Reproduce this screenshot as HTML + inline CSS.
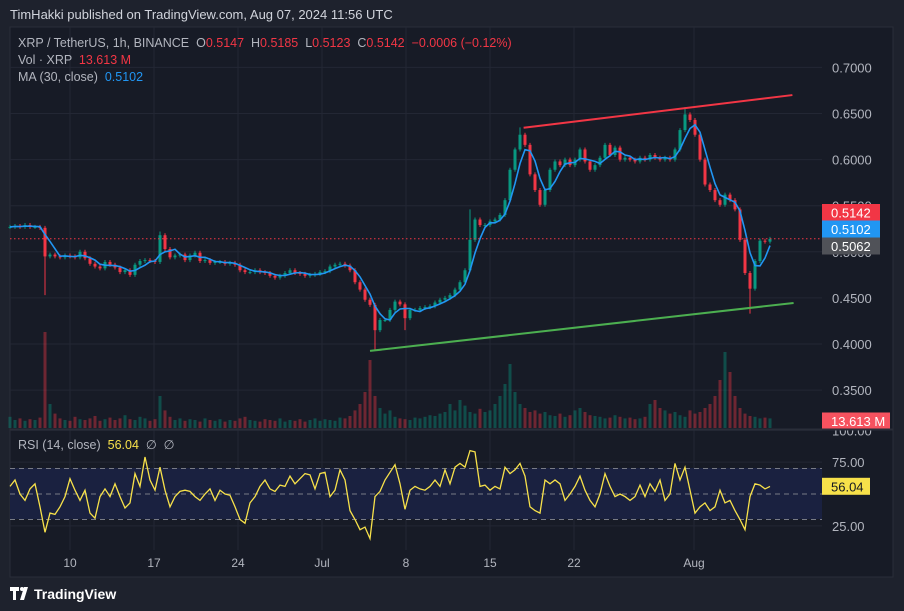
<!DOCTYPE html>
<html><head><meta charset="utf-8"><style>
html,body{margin:0;padding:0;background:#1e222d;}
svg{display:block;font-family:"Liberation Sans",sans-serif;}
</style></head><body>
<svg id="chart" width="904" height="611" viewBox="0 0 904 611" xmlns="http://www.w3.org/2000/svg">
<rect x="0" y="0" width="904" height="611" fill="#1e222d"/>
<text x="10" y="19" fill="#d1d4dc" font-size="13">TimHakki published on TradingView.com, Aug 07, 2024 11:56 UTC</text>
<rect x="10" y="27" width="883" height="550" fill="#171b26" stroke="#2a2e39"/>
<g id="grid"></g>
<rect x="10" y="468" width="812" height="51" fill="#1a2140"/>
<g id="rsilines"></g>
<g id="vol"></g>
<g id="candles"></g>
<g id="ma"></g>
<g id="lines"></g>
<g id="rsi"></g>
<g id="axis"></g>
<line x1="10" y1="429.5" x2="893" y2="429.5" stroke="#2a2e39" stroke-width="2"/>
<g font-size="12.5">
<text x="18" y="47" fill="#b2b5be" xml:space="preserve">XRP / TetherUS, 1h, BINANCE  O<tspan fill="#f23645">0.5147</tspan>  H<tspan fill="#f23645">0.5185</tspan>  L<tspan fill="#f23645">0.5123</tspan>  C<tspan fill="#f23645">0.5142</tspan>  <tspan fill="#f23645">−0.0006 (−0.12%)</tspan></text>
<text x="18" y="64" fill="#b2b5be" xml:space="preserve">Vol · XRP  <tspan fill="#f23645">13.613 M</tspan></text>
<text x="18" y="81" fill="#b2b5be" xml:space="preserve">MA (30, close)  <tspan fill="#2196f3">0.5102</tspan></text>
<text x="18" y="449" fill="#b2b5be" xml:space="preserve">RSI (14, close)  <tspan fill="#f7e14a">56.04</tspan>  ∅  ∅</text>
</g>
<g>
<path d="M10 587h9v4h-3v9h-3v-9h-3z M20 600l4-13h4l-4 13z" fill="#ffffff"/>
<circle cx="22" cy="589" r="2" fill="#ffffff"/>
<text x="34" y="599" fill="#ffffff" font-size="14" font-weight="bold">TradingView</text>
</g>
</svg>
<script>
const closes=[.527,.528,.527,.529,.527,.527,.526,.495,.497,.495,
.494,.496,.495,.494,.500,.493,.487,.484,.482,.489,
.486,.483,.478,.480,.475,.486,.490,.491,.490,.489,
.518,.503,.494,.496,.497,.491,.496,.499,.490,.491,
.488,.489,.489,.487,.488,.486,.480,.478,.478,.480,
.478,.477,.474,.472,.474,.477,.480,.477,.476,.474,
.475,.476,.478,.479,.484,.486,.487,.485,.480,.467,
.459,.448,.4425,.415,.426,.426,.437,.446,.443,.428,
.437,.437,.439,.440,.441,.445,.448,.450,.453,.459,
.467,.480,.513,.535,.529,.529,.533,.535,.540,.556,
.589,.611,.627,.616,.584,.567,.551,.567,.589,.598,
.594,.600,.594,.600,.611,.598,.589,.594,.602,.616,
.605,.613,.600,.602,.600,.598,.602,.600,.605,.602,
.600,.602,.600,.611,.632,.649,.643,.627,.600,.573,
.567,.556,.551,.562,.556,.546,.513,.477,.460,.490,
.512,.511,.514];
const extremes=[[7,0.453],[73,0.393],[148,0.433],[102,0.635],[135,0.657],[79,0.415],[30,0.522],[92,0.546]];
const volumes=[14,10,12,9,11,10,13,120,30,18,12,10,9,14,11,10,12,15,9,11,13,10,12,16,11,10,14,12,9,11,40,22,14,10,12,9,11,10,8,12,10,9,11,8,10,9,12,14,10,9,8,11,10,9,12,8,10,9,11,8,10,12,9,11,10,9,13,12,15,22,30,45,85,40,25,18,22,14,12,11,10,13,12,14,16,15,18,20,30,22,35,28,20,18,24,20,22,30,40,55,80,45,30,25,20,22,18,20,16,15,18,14,16,22,25,20,16,15,14,12,13,16,14,12,13,11,12,14,30,35,25,22,18,20,16,14,22,18,20,25,30,40,60,95,70,40,25,18,15,14,12,13,12];
const rsiValues=[56,61,50,45,54,58,40,20,35,34,
40,48,62,53,45,53,35,31,48,54,
48,58,48,39,43,66,56,79,61,53,
71,53,40,48,52,53,52,48,45,50,
54,45,53,50,49,40,30,27,43,48,
56,61,54,52,57,56,64,58,62,66,
65,54,66,67,48,53,69,61,37,30,
22,24,15,48,52,61,67,73,58,38,
53,56,54,53,56,61,56,69,58,71,
74,71,84,83,56,57,53,56,54,71,
66,69,74,64,40,37,35,61,58,61,
58,45,50,56,64,53,45,40,50,66,
56,48,50,48,45,48,57,48,58,52,
61,45,50,74,61,71,53,35,40,43,
37,40,53,43,45,37,30,22,48,58,
57,54,56];
const priceTicks=[0.70,0.65,0.60,0.55,0.50,0.45,0.40,0.35];
const priceTickLabels=["0.7000","0.6500","0.6000","0.5500","0.5000","0.4500","0.4000","0.3500"];
const rsiTicks=[100,75,25];
const rsiTickLabels=["100.00","75.00","25.00"];
const timeTickDays=[5,12,19,26,33,40,47,57];
const timeTickLabels=["10","17","24","Jul","8","15","22","Aug"];
const redTrend=[[42.8,0.6345],[65.2,0.670]];
const greenTrend=[[30,0.3925],[65.3,0.4445]];
const lastPrice=0.5142, maValue=0.5102, prevValue=0.5062, lastRsi=56.04;

const NS="http://www.w3.org/2000/svg";
function yP(p){return 251.8-(p-0.5)*922;}
function xI(i){return 10+5*i;}
function xD(d){return 10+12*d;}
function yR(r){return 494-(r-50)*1.275;}
function yV(v){return 428-v*0.8;}
function mk(par,tag,at){const e=document.createElementNS(NS,tag);for(const k in at)e.setAttribute(k,at[k]);document.getElementById(par).appendChild(e);return e;}

priceTicks.forEach((p,k)=>{
  const l=mk('grid','line',{x1:10,x2:822,y1:yP(p),y2:yP(p),stroke:'#232734'});
  
  
  const t=mk('axis','text',{x:832,y:yP(p)+5,fill:'#b2b5be','font-size':13});
  t.textContent=priceTickLabels[k];
  
  
});
rsiTicks.forEach((r,k)=>{
  const l=mk('grid','line',{x1:10,x2:822,y1:yR(r),y2:yR(r),stroke:'#232734'});
  
  
  const t=mk('axis','text',{x:832,y:yR(r)+5,fill:'#b2b5be','font-size':13});
  t.textContent=rsiTickLabels[k];
  
  
});
timeTickDays.forEach((d,k)=>{
  const l=mk('grid','line',{x1:xD(d),x2:xD(d),y1:27,y2:550,stroke:'#232734'});
  
  
  const t=mk('axis','text',{x:xD(d),y:567,fill:'#b2b5be','font-size':12,'text-anchor':'middle'});
  t.textContent=timeTickLabels[k];
  
  
});
[70,50,30].forEach(r=>{
  const l=mk('rsilines','line',{x1:10,x2:822,y1:yR(r),y2:yR(r),stroke:'#787b86','stroke-dasharray':'5 4'});
  
  
});
closes.forEach((c,i)=>{
  const o=i?closes[i-1]:c, up=c>=o, v=volumes[i]||0;
  const r=mk('vol','rect',{x:xI(i)-1.5,y:yV(v),width:3,height:428-yV(v),fill:up?'#089981':'#f23645','fill-opacity':0.4});
  
  
});
closes.forEach((c,i)=>{
  const o=i?closes[i-1]:c, up=c>=o, col=up?'#089981':'#f23645';
  let top=Math.min(yP(o),yP(c)), bot=Math.max(yP(o),yP(c));
  let wt=top-2, wb=bot+2;
  extremes.forEach(e=>{if(e[0]===i){const y=yP(e[1]);wt=Math.min(wt,y);wb=Math.max(wb,y);}});
  const w=mk('candles','line',{x1:xI(i),x2:xI(i),y1:wt,y2:wb,stroke:col,'stroke-width':1});
  
  
  const b=mk('candles','rect',{x:xI(i)-1.5,y:top,width:3,height:Math.max(1,bot-top),fill:col});
  
  
});
let d='';
closes.forEach((c,i)=>{const a=closes.slice(Math.max(0,i-3),i+1);const m=a.reduce((s,v)=>s+v,0)/a.length;d+=(i?'L':'M')+xI(i)+' '+yP(m).toFixed(1);});
const ma=mk('ma','path',{d:d,fill:'none',stroke:'#2196f3','stroke-width':1.6});


const rt=mk('lines','line',{x1:xD(redTrend[0][0]),y1:yP(redTrend[0][1]),x2:xD(redTrend[1][0]),y2:yP(redTrend[1][1]),stroke:'#f23645','stroke-width':2});


const gt=mk('lines','line',{x1:xD(greenTrend[0][0]),y1:yP(greenTrend[0][1]),x2:xD(greenTrend[1][0]),y2:yP(greenTrend[1][1]),stroke:'#4caf50','stroke-width':2});


const lp=mk('lines','line',{x1:10,x2:822,y1:yP(lastPrice),y2:yP(lastPrice),stroke:'#f23645','stroke-dasharray':'1.5 2.5'});


let rd='';
rsiValues.forEach((r,i)=>{rd+=(i?'L':'M')+xI(i)+' '+yR(r).toFixed(1);});
const rl=mk('rsi','path',{d:rd,fill:'none',stroke:'#f7e14a','stroke-width':1.3});


function badge(y,txt,bg,fg,w,x,name){
  const r=mk('axis','rect',{x:x,y:y-8.5,width:w,height:17,fill:bg});
  
  
  const t=mk('axis','text',{x:x+9,y:y+5,fill:fg,'font-size':13});
  t.textContent=txt;
  
  
}
badge(212.5,lastPrice.toFixed(4),'#f23645','#ffffff',58,822,'last-price-badge');
badge(229,maValue.toFixed(4),'#2196f3','#ffffff',58,822,'ma-badge');
badge(246,prevValue.toFixed(4),'#505258','#ffffff',58,822,'prev-close-badge');
badge(421,'13.613 M','#f7525f','#ffffff',68,822,'volume-badge');
badge(yR(lastRsi),lastRsi.toFixed(2),'#f7e14a','#131722',48,822,'rsi-badge');
</script>
</body></html>
